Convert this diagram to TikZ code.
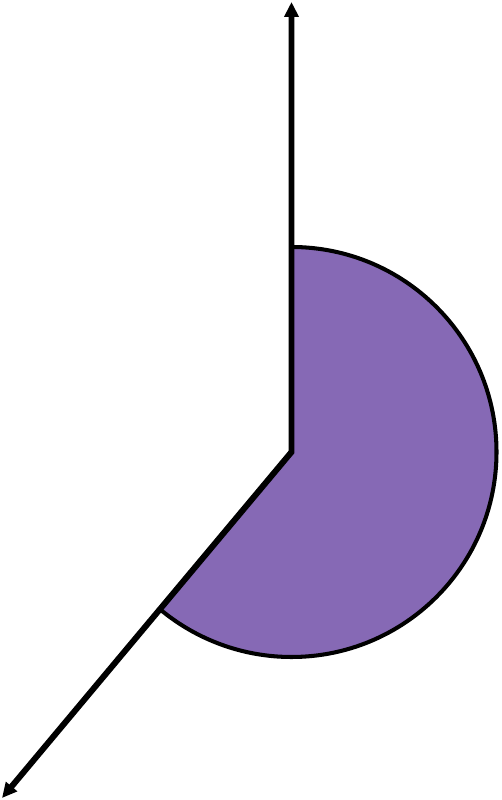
\documentclass[tikz,border=0pt]{standalone}
\usetikzlibrary{arrows.meta}
\definecolor{sectorpurple}{RGB}{134,105,181}
\begin{document}
\begin{tikzpicture}[
		ray/.style={line width=3.4pt, {Triangle[length=0.3cm, width=0.28cm]}-{Triangle[length=0.3cm, width=0.28cm]}},
		sector/.style={draw=black, line width=2.3pt, fill=sectorpurple}
	]
	\useasboundingbox (0,0) rectangle (10.02,16);
	% Vertex and ray ends
	\coordinate (vertex) at (5.83,6.96);
	\coordinate (upper) at (5.83,15.96);
	\coordinate (lower) at (0.04,0.04);
	
	% Angle sector
	\draw[sector] (vertex) -- ++(90:4.1) arc (90:-130:4.1) -- cycle;
	
	% Rays
	\draw[ray] (upper) -- (vertex) -- (lower);
\end{tikzpicture}
\end{document}
